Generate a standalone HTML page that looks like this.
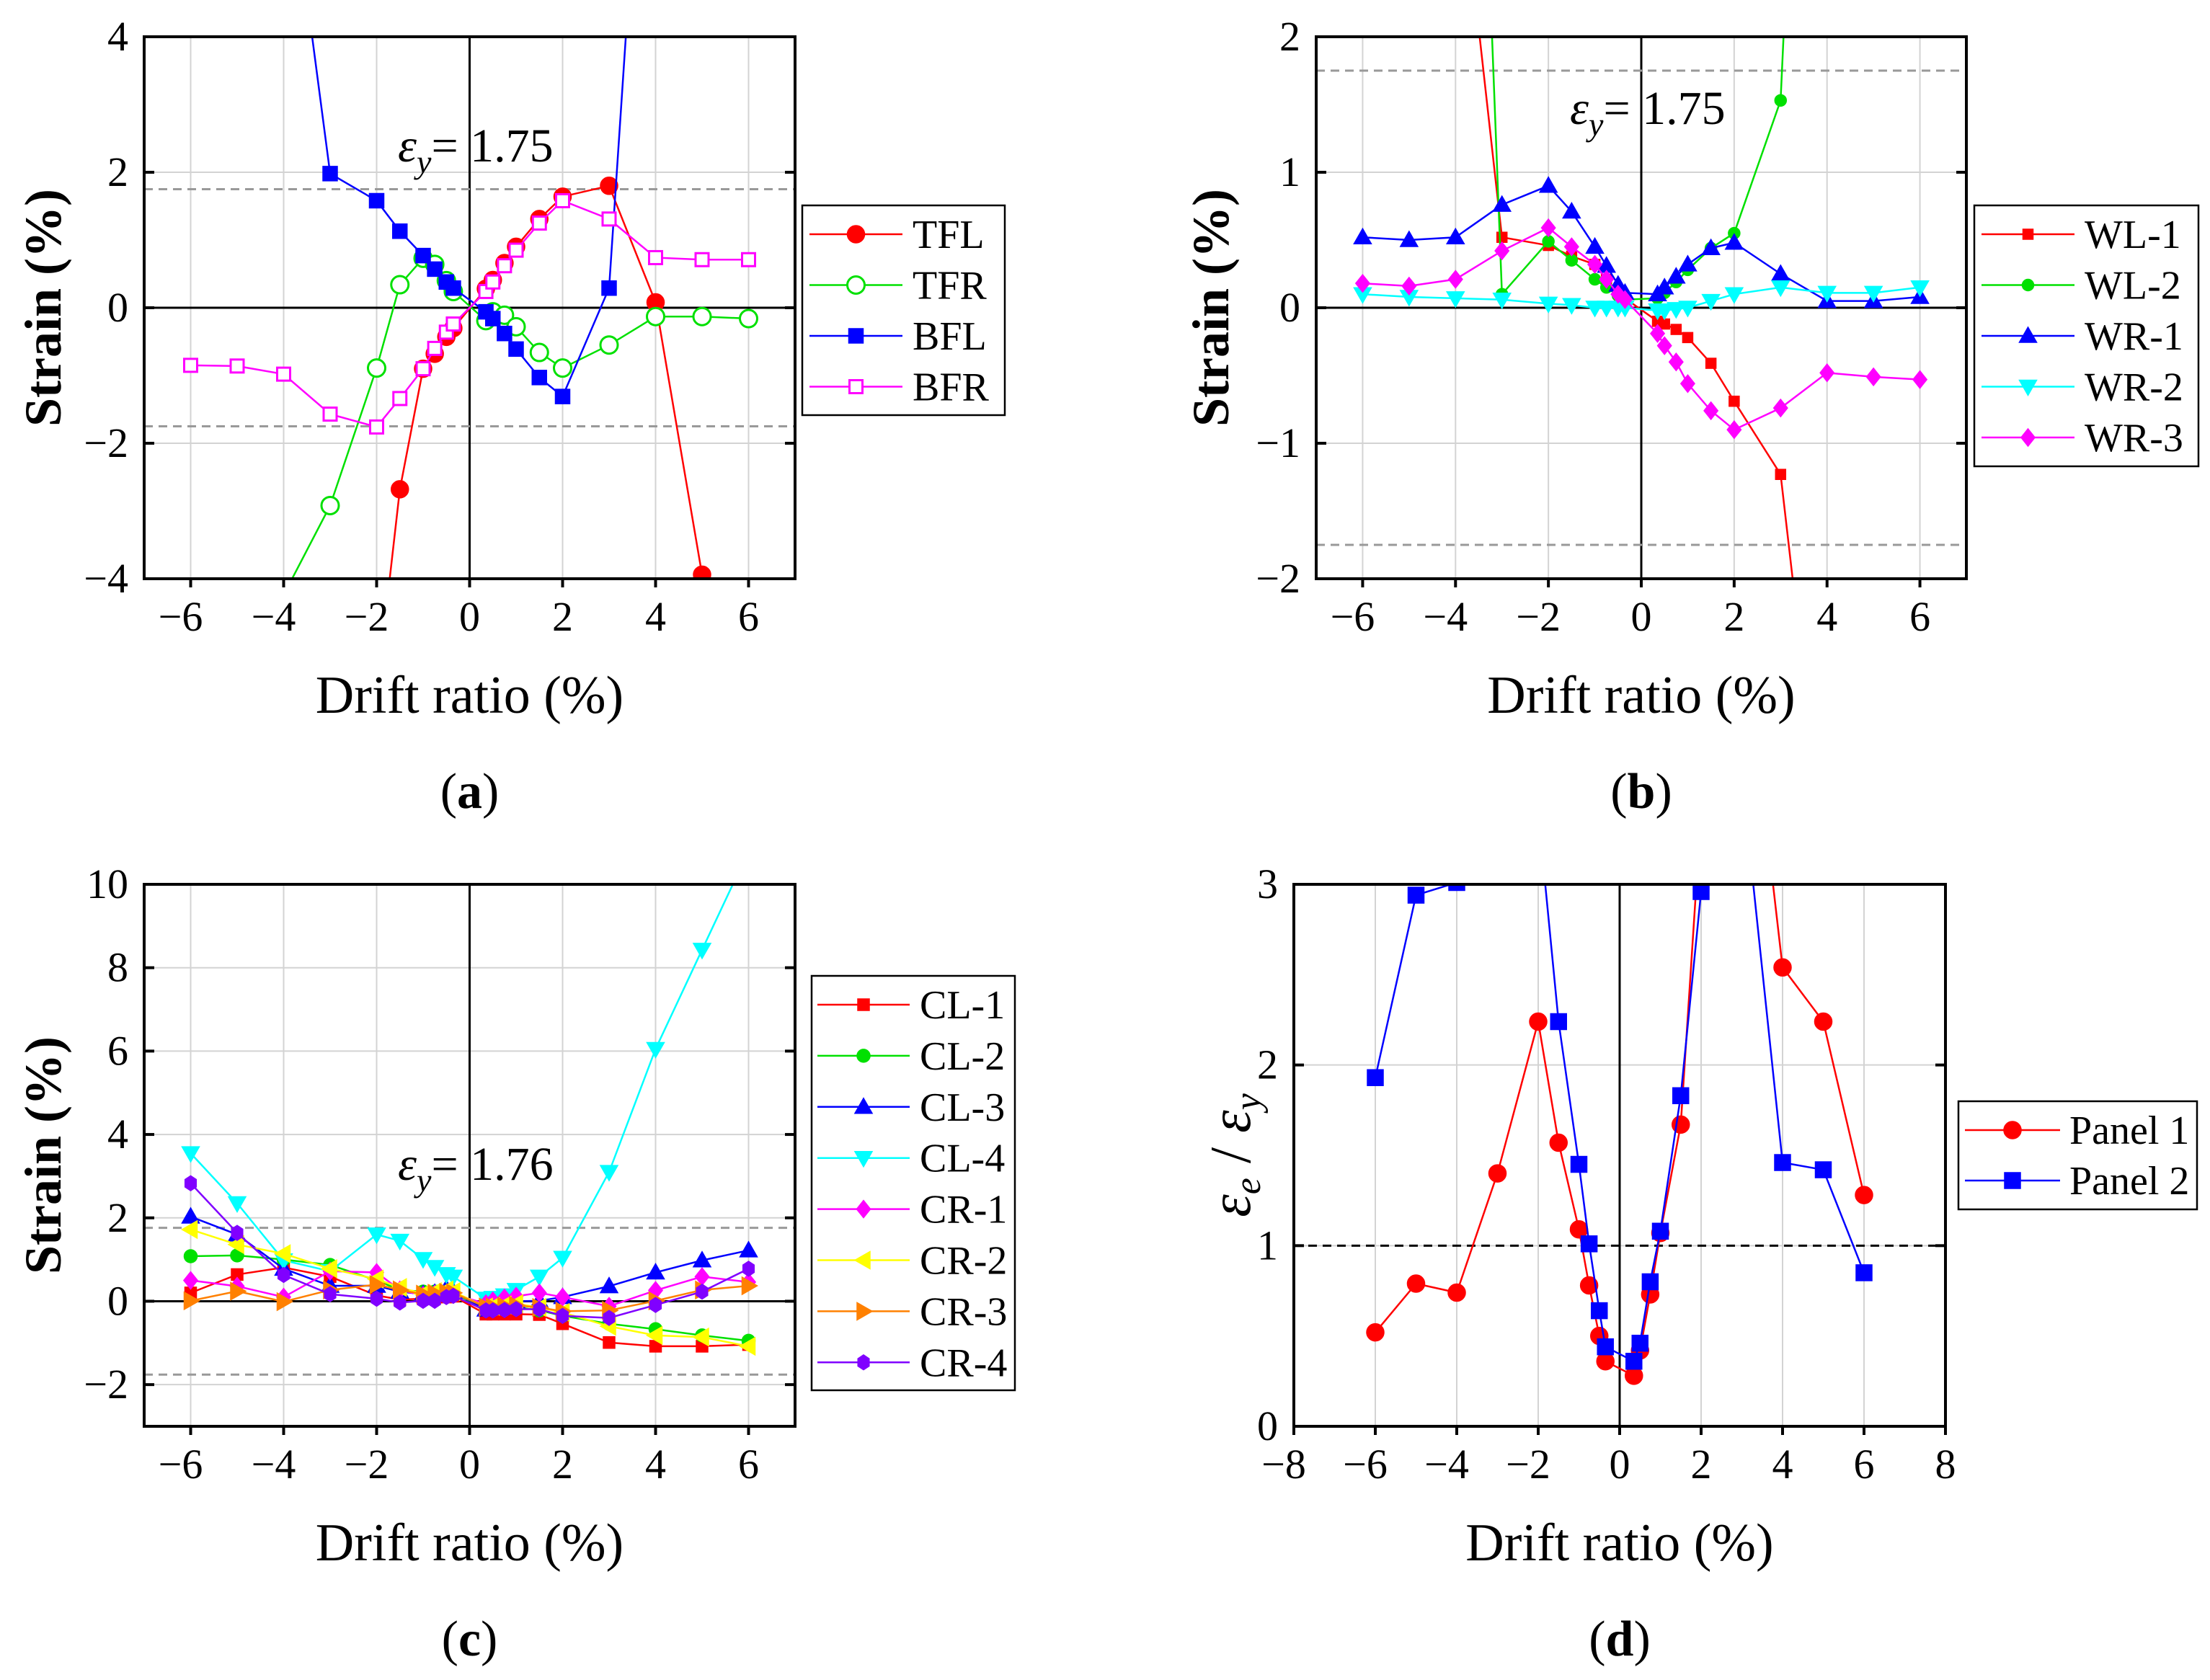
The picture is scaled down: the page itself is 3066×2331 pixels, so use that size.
<!DOCTYPE html>
<html><head><meta charset="utf-8"><style>
html,body{margin:0;padding:0;background:#fff}
svg{display:block}
text{font-family:"Liberation Serif",serif;fill:#000}
</style></head><body>
<svg id="fig" width="3066" height="2331" viewBox="0 0 3066 2331" xmlns="http://www.w3.org/2000/svg" font-family="Liberation Serif, serif">
<defs>
<clipPath id="clipA"><rect x="200" y="51" width="903" height="752"/></clipPath>
<clipPath id="clipB"><rect x="1826" y="51" width="902" height="752"/></clipPath>
<clipPath id="clipC"><rect x="200" y="1227" width="903" height="752"/></clipPath>
<clipPath id="clipD"><rect x="1795" y="1227" width="904" height="752"/></clipPath>
</defs>
</svg>
<script>
// ---------- data ----------
const driftX = [-6,-5,-4,-3,-2,-1.5,-1,-0.75,-0.5,-0.35,0.35,0.5,0.75,1,1.5,2,3,4,5,6];
// Panel (a)
const tflX = [-2,-1.5,-1,-0.75,-0.5,-0.35,0.35,0.5,0.75,1,1.5,2,3,4,5];
const tflY = [-5.7,-2.68,-0.9,-0.68,-0.43,-0.3,0.28,0.41,0.66,0.9,1.31,1.64,1.8,0.08,-3.94];
const tfrX = [-4,-3,-2,-1.5,-1,-0.75,-0.5,-0.35,0.35,0.5,0.75,1,1.5,2,3,4,5,6];
const tfrY = [-4.24,-2.92,-0.89,0.34,0.73,0.64,0.4,0.24,-0.19,-0.06,-0.11,-0.28,-0.66,-0.89,-0.55,-0.13,-0.13,-0.16];
const bflX = [-4,-3,-2,-1.5,-1,-0.75,-0.5,-0.35,0.35,0.5,0.75,1,1.5,2,3,4];
const bflY = [7.2,1.98,1.58,1.13,0.77,0.57,0.38,0.29,-0.06,-0.16,-0.38,-0.61,-1.03,-1.31,0.29,10.6];
const bfrY = [-0.85,-0.86,-0.98,-1.57,-1.76,-1.34,-0.9,-0.6,-0.36,-0.24,0.24,0.38,0.62,0.85,1.25,1.58,1.31,0.74,0.71,0.71];
// Panel (b)
const wl1X = [-4,-3,-2,-1.5,-1,-0.75,-0.5,-0.35,0.35,0.5,0.75,1,1.5,2,3,4];
const wl1Y = [3.6,0.52,0.46,0.38,0.32,0.21,0.11,0.07,-0.1,-0.12,-0.16,-0.22,-0.41,-0.69,-1.23,-4.2];
const wl2X = [-4,-3,-2,-1.5,-1,-0.75,-0.5,-0.35,0.35,0.5,0.75,1,1.5,2,3,4];
const wl2Y = [9,0.1,0.49,0.35,0.21,0.15,0.09,0.06,0.07,0.11,0.19,0.28,0.44,0.55,1.53,9];
const wr1Y = [0.52,0.5,0.52,0.76,0.9,0.71,0.45,0.31,0.17,0.11,0.1,0.15,0.23,0.32,0.44,0.48,0.25,0.05,0.05,0.08];
const wr2Y = [0.1,0.08,0.07,0.06,0.03,0.02,0,0,0,0,-0.02,-0.02,-0.01,0,0.05,0.1,0.15,0.11,0.11,0.15];
const wr3Y = [0.18,0.16,0.21,0.42,0.59,0.45,0.32,0.21,0.1,0.06,-0.19,-0.28,-0.4,-0.56,-0.76,-0.9,-0.74,-0.48,-0.51,-0.53];
// Panel (c)
const cl1Y = [0.2,0.64,0.81,0.59,0.14,0.04,0.06,0.08,0.1,0.12,-0.31,-0.31,-0.31,-0.31,-0.32,-0.54,-0.99,-1.08,-1.08,-1.04];
const cl2Y = [1.08,1.1,1.0,0.87,0.5,0.27,0.23,0.23,0.23,0.19,-0.18,-0.18,-0.14,-0.14,-0.22,-0.35,-0.54,-0.67,-0.82,-0.95];
const cl3Y = [2.03,1.6,0.78,0.37,0.37,0.23,0.17,0.2,0.3,0.23,-0.2,-0.08,-0.01,0,0.01,0.1,0.36,0.69,0.98,1.22];
const cl4Y = [3.55,2.35,0.98,0.72,1.6,1.45,1.01,0.82,0.65,0.59,0.06,0.08,0.14,0.27,0.59,1.04,3.1,6.05,8.43,10.8];
const cr1Y = [0.5,0.36,0.1,0.72,0.69,0.27,0.14,0.17,0.19,0.17,-0.06,0.01,0.08,0.12,0.2,0.1,-0.12,0.26,0.59,0.46];
const cr2Y = [1.72,1.36,1.14,0.78,0.53,0.33,0.18,0.23,0.27,0.23,-0.14,-0.12,-0.09,-0.06,-0.15,-0.27,-0.6,-0.82,-0.86,-1.08];
const cr3Y = [0.01,0.24,-0.01,0.27,0.4,0.27,0.17,0.19,0.21,0.2,-0.14,-0.14,-0.12,-0.1,-0.15,-0.24,-0.22,0.01,0.27,0.37];
const cr4Y = [2.83,1.64,0.63,0.17,0.06,-0.03,0.01,0.01,0.1,0.13,-0.22,-0.22,-0.21,-0.19,-0.19,-0.35,-0.4,-0.09,0.23,0.78];
// Panel (d)
const p1X = [-6,-5,-4,-3,-2,-1.5,-1,-0.75,-0.5,-0.35,0.35,0.5,0.75,1,1.5,2,3,4,5,6];
const p1Y = [0.52,0.79,0.74,1.4,2.24,1.57,1.09,0.78,0.5,0.36,0.28,0.42,0.73,1.07,1.67,3.4,4.5,2.54,2.24,1.28];
const p2Y = [1.93,2.94,3.01,3.8,3.4,2.24,1.45,1.01,0.64,0.44,0.36,0.46,0.8,1.08,1.83,2.96,3.6,1.46,1.42,0.85];

const xTicksA = [-6,-4,-2,0,2,4,6];
const yTicksA = [-4,-2,0,2,4];
const yTicksB = [-2,-1,0,1,2];
const yTicksC = [-2,0,2,4,6,8,10];
const xTicksD = [-8,-6,-4,-2,0,2,4,6,8];
const yTicksD = [0,1,2,3];

// ---------- helpers ----------
const NS = "http://www.w3.org/2000/svg";
const svg = document.getElementById('fig');
function mk(tag, attrs, parent){
  const e = document.createElementNS(NS, tag);
  for (const k in attrs) e.setAttribute(k, attrs[k]);
  (parent||svg).appendChild(e);
  return e;
}
function lin(d0,d1,r0,r1){ return v => r0 + (v-d0)/(d1-d0)*(r1-r0); }

function marker(g, shape, cx, cy, s, color, open){
  const fill = open ? '#fff' : color;
  const st = {fill:fill, stroke:color, 'stroke-width':open?3:1.5};
  let e;
  if (shape==='circle') e = mk('circle', Object.assign({cx:cx,cy:cy,r:s},st), g);
  else if (shape==='square') e = mk('rect', Object.assign({x:cx-s,y:cy-s,width:2*s,height:2*s},st), g);
  else {
    let pts;
    const k=s*1.2;
    if (shape==='up') pts=[[0,-k],[k,k*0.75],[-k,k*0.75]];
    else if (shape==='down') pts=[[0,k],[k,-k*0.75],[-k,-k*0.75]];
    else if (shape==='left') pts=[[-k,0],[k*0.75,-k],[k*0.75,k]];
    else if (shape==='right') pts=[[k,0],[-k*0.75,-k],[-k*0.75,k]];
    else if (shape==='diamond') pts=[[0,-k],[k*0.8,0],[0,k],[-k*0.8,0]];
    else if (shape==='hex'){ pts=[]; for(let i=0;i<6;i++){const a=Math.PI/6+i*Math.PI/3; pts.push([Math.cos(a)*s,Math.sin(a)*s*1.15]);} }
    e = mk('polygon', Object.assign({points:pts.map(p=>(cx+p[0])+','+(cy+p[1])).join(' ')},st), g);
  }
  
  
  return e;
}

function panel(o){
  const g = mk('g', {});
  
  
  const X = lin(o.xd[0],o.xd[1],o.x0,o.x1), Y = lin(o.yd[0],o.yd[1],o.y1,o.y0);
  o.xticks.forEach(t=>{ if(t===0) return; const l=mk('line',{x1:X(t),x2:X(t),y1:o.y0,y2:o.y1,stroke:'#d3d3d3','stroke-width':2},g);
      });
  o.yticks.forEach(t=>{ if(t===0 && o.zeroH) return; const l=mk('line',{x1:o.x0,x2:o.x1,y1:Y(t),y2:Y(t),stroke:'#d3d3d3','stroke-width':2},g);
      });
  if (o.zeroH){ const l=mk('line',{x1:o.x0,x2:o.x1,y1:Y(0),y2:Y(0),stroke:'#000','stroke-width':3},g);
      }
  const lv=mk('line',{x1:X(0),x2:X(0),y1:o.y0,y2:o.y1,stroke:'#000','stroke-width':3},g);
   
  o.refs.forEach(r=>{ const l=mk('line',{x1:o.x0,x2:o.x1,y1:Y(r),y2:Y(r),stroke:o.refColor,'stroke-width':3,'stroke-dasharray':'12 8'},g);
      });
  const sg = mk('g', {'clip-path':'url(#'+o.clip+')'}, g);
  o.series.forEach(s=>{
    const ser = mk('g',{},sg);
    
    
    const pts = s.x.map((x,i)=>X(x)+','+Y(s.y[i])).join(' ');
    const pl = mk('polyline',{points:pts,fill:'none',stroke:s.color,'stroke-width':2.5},ser);
     
    s.x.forEach((x,i)=>{ const yy=s.y[i]; if (yy>=o.yd[0]-0.02 && yy<=o.yd[1]+0.02) marker(ser,s.shape,X(x),Y(yy),s.size,s.color,s.open); });
  });
  const fr=mk('rect',{x:o.x0,y:o.y0,width:o.x1-o.x0,height:o.y1-o.y0,fill:'none',stroke:'#000','stroke-width':4},g);
   
  o.yticks.forEach(t=>{
    const a=mk('line',{x1:o.x0,x2:o.x0+14,y1:Y(t),y2:Y(t),stroke:'#000','stroke-width':4},g);
     
    const b=mk('line',{x1:o.x1,x2:o.x1-14,y1:Y(t),y2:Y(t),stroke:'#000','stroke-width':4},g);
     
    const tx=mk('text',{x:o.x0-22,y:Y(t)+19,'font-size':58,'text-anchor':'end'},g);
    tx.textContent = t<0 ? '\u2212'+(-t) : String(t);
     
  });
  o.xticks.forEach(t=>{
    const a=mk('line',{x1:X(t),x2:X(t),y1:o.y1,y2:o.y1+12,stroke:'#000','stroke-width':4},g);
     
    const tx=mk('text',{x:X(t)-(t<0?14:0),y:o.y1+72,'font-size':58,'text-anchor':'middle'},g);
    tx.textContent = t<0 ? '\u2212'+(-t) : String(t);
     
  });
  const xt=mk('text',{x:(o.x0+o.x1)/2,y:o.y1+186,'font-size':74,'text-anchor':'middle'},g);
  xt.textContent='Drift ratio (%)';
   
  if (o.ytitleEps){
    const yt=mk('text',{x:0,y:0,'font-size':80,'text-anchor':'middle','font-style':'italic',transform:'translate('+(o.ytx+26)+','+((o.y0+o.y1)/2)+') rotate(-90)'},g);
    yt.innerHTML='\u03B5<tspan font-size="52" dy="14">e</tspan><tspan dy="-14" font-style="normal"> / </tspan>\u03B5<tspan font-size="52" dy="14">y</tspan>';
     
  } else {
    const yt=mk('text',{x:0,y:0,'font-size':72,'font-weight':'bold','text-anchor':'middle',transform:'translate('+(o.ytx+26)+','+((o.y0+o.y1)/2)+') rotate(-90)'},g);
    yt.textContent='Strain (%)';
     
  }
  const pl=mk('text',{x:(o.x0+o.x1)/2,y:o.y1+318,'font-size':70,'text-anchor':'middle'},g);
  pl.innerHTML='(<tspan font-weight="bold">'+o.letter+'</tspan>)';
   
  if (o.ann){
    const an=mk('text',{x:o.ann[0],y:o.ann[1],'font-size':66},g);
    an.innerHTML='<tspan font-style="italic">\u03B5</tspan><tspan font-style="italic" font-size="46" dy="16">y</tspan><tspan dy="-16">= '+o.ann[2]+'</tspan>';
     
  }
  const L=o.legend;
  const lg=mk('g',{},g);
   
  const lr=mk('rect',{x:L.x,y:L.y,width:L.w,height:L.h,fill:'#fff',stroke:'#000','stroke-width':2.5},lg);
   
  o.series.forEach((s,i)=>{
    const ey=L.first+i*L.step;
    const en=mk('g',{},lg);
     
    mk('line',{x1:L.lx0,x2:L.lx1,y1:ey,y2:ey,stroke:s.color,'stroke-width':2.5},en);
    marker(en,s.shape,(L.lx0+L.lx1)/2,ey,s.size,s.color,s.open);
    const t=mk('text',{x:L.tx,y:ey+19,'font-size':56},en);
    t.textContent=s.label;
     
  });
}

panel({name:'panel-a',letter:'a',clip:'clipA',x0:200,x1:1103,y0:51,y1:803,xd:[-7,7],yd:[-4,4],xticks:xTicksA,yticks:yTicksA,zeroH:true,
  refs:[1.75,-1.75],refColor:'#999',ytx:58,ann:[552,224,'1.75'],
  series:[
    {label:'TFL',x:tflX,y:tflY,color:'#ff0000',shape:'circle',size:12,open:false},
    {label:'TFR',x:tfrX,y:tfrY,color:'#00e000',shape:'circle',size:12,open:true},
    {label:'BFL',x:bflX,y:bflY,color:'#0000ff',shape:'square',size:10,open:false},
    {label:'BFR',x:driftX,y:bfrY,color:'#ff00ff',shape:'square',size:9,open:true}],
  legend:{x:1113,y:285,w:281,h:291,first:325,step:70.5,lx0:1123,lx1:1252,tx:1266}});

panel({name:'panel-b',letter:'b',clip:'clipB',x0:1826,x1:2728,y0:51,y1:803,xd:[-7,7],yd:[-2,2],xticks:xTicksA,yticks:yTicksB,zeroH:true,
  refs:[1.75,-1.75],refColor:'#999',ytx:1678,ann:[2178,172,'1.75'],
  series:[
    {label:'WL-1',x:wl1X,y:wl1Y,color:'#ff0000',shape:'square',size:7,open:false},
    {label:'WL-2',x:wl2X,y:wl2Y,color:'#00e000',shape:'circle',size:8,open:false},
    {label:'WR-1',x:driftX,y:wr1Y,color:'#0000ff',shape:'up',size:10,open:false},
    {label:'WR-2',x:driftX,y:wr2Y,color:'#00ffff',shape:'down',size:10,open:false},
    {label:'WR-3',x:driftX,y:wr3Y,color:'#ff00ff',shape:'diamond',size:10,open:false}],
  legend:{x:2739,y:285,w:311,h:362,first:325,step:70.5,lx0:2749,lx1:2878,tx:2892}});

panel({name:'panel-c',letter:'c',clip:'clipC',x0:200,x1:1103,y0:1227,y1:1979,xd:[-7,7],yd:[-3,10],xticks:xTicksA,yticks:yTicksC,zeroH:true,
  refs:[1.76,-1.76],refColor:'#999',ytx:58,ann:[552,1637,'1.76'],
  series:[
    {label:'CL-1',x:driftX,y:cl1Y,color:'#ff0000',shape:'square',size:8,open:false},
    {label:'CL-2',x:driftX,y:cl2Y,color:'#00e000',shape:'circle',size:9,open:false},
    {label:'CL-3',x:driftX,y:cl3Y,color:'#0000ff',shape:'up',size:10,open:false},
    {label:'CL-4',x:driftX,y:cl4Y,color:'#00ffff',shape:'down',size:10,open:false},
    {label:'CR-1',x:driftX,y:cr1Y,color:'#ff00ff',shape:'diamond',size:10,open:false},
    {label:'CR-2',x:driftX,y:cr2Y,color:'#ffff00',shape:'left',size:10,open:false},
    {label:'CR-3',x:driftX,y:cr3Y,color:'#ff8000',shape:'right',size:10,open:false},
    {label:'CR-4',x:driftX,y:cr4Y,color:'#8000ff',shape:'hex',size:9,open:false}],
  legend:{x:1126,y:1354,w:282,h:575,first:1394,step:70.9,lx0:1134,lx1:1262,tx:1276}});

panel({name:'panel-d',letter:'d',clip:'clipD',x0:1795,x1:2699,y0:1227,y1:1979,xd:[-8,8],yd:[0,3],xticks:xTicksD,yticks:yTicksD,zeroH:false,
  refs:[1],refColor:'#000',ytx:1708,ytitleEps:true,
  series:[
    {label:'Panel 1',x:p1X,y:p1Y,color:'#ff0000',shape:'circle',size:12,open:false},
    {label:'Panel 2',x:driftX,y:p2Y,color:'#0000ff',shape:'square',size:11,open:false}],
  legend:{x:2717,y:1528,w:331,h:150,first:1568,step:70,lx0:2726,lx1:2858,tx:2871}});
</script>
</body></html>
